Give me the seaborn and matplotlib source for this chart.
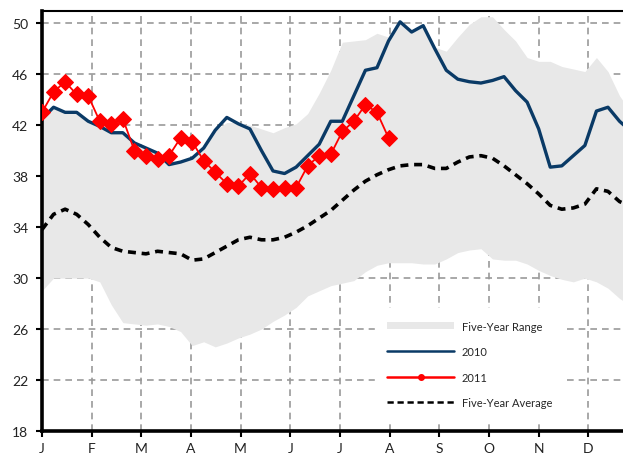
import matplotlib
matplotlib.use("Agg")
import matplotlib.pyplot as plt
import numpy as np
import pandas as pd
import seaborn as sns
from matplotlib.patches import Patch
from matplotlib.lines import Line2D

# month labels on x axis (weekly data, ~4.3 weeks per month)
months = ["J", "F", "M", "A", "M", "J", "J", "A", "S", "O", "N", "D"]
weeks_per_month = 4.3

# weekly values
y2010 = [42.5, 43.4, 43.0, 43.0, 42.3, 41.9, 41.4, 41.4, 40.6, 40.2,
         39.8, 38.9, 39.1, 39.4, 40.2, 41.6, 42.6, 42.1, 41.7, 40.0,
         38.4, 38.2, 38.7, 39.6, 40.5, 42.3, 42.3, 44.3, 46.3, 46.5,
         48.6, 50.1, 49.3, 49.8, 48.0, 46.3, 45.6, 45.4, 45.3, 45.5,
         45.8, 44.7, 43.8, 41.7, 38.7, 38.8, 39.6, 40.4, 43.1, 43.4,
         42.3, 41.5]

y2011 = [43.0, 44.6, 45.4, 44.4, 44.3, 42.3, 42.1, 42.5, 40.0, 39.6,
         39.3, 39.6, 41.0, 40.7, 39.2, 38.3, 37.4, 37.2, 38.2, 37.1,
         37.0, 37.1, 37.1, 38.8, 39.6, 39.7, 41.5, 42.3, 43.6, 43.0,
         41.0]

avg5 = [33.8, 35.0, 35.4, 35.0, 34.2, 33.2, 32.4, 32.1, 32.0, 31.9,
        32.1, 32.0, 31.9, 31.4, 31.5, 32.0, 32.5, 33.0, 33.2, 33.0,
        33.0, 33.2, 33.6, 34.1, 34.7, 35.3, 36.1, 36.9, 37.6, 38.1,
        38.5, 38.8, 38.9, 38.9, 38.6, 38.6, 39.1, 39.5, 39.6, 39.4,
        38.8, 38.1, 37.4, 36.6, 35.7, 35.4, 35.5, 35.8, 37.0, 36.8,
        36.0, 35.6]

range_hi = [42.5, 43.4, 43.0, 43.0, 42.3, 41.9, 41.4, 41.4, 40.6, 40.2,
            39.8, 38.9, 39.1, 39.4, 40.2, 41.6, 42.2, 42.2, 42.0, 41.7,
            41.4, 41.8, 42.1, 42.9, 44.5, 46.3, 48.5, 48.6, 48.7, 49.2,
            48.9, 50.1, 49.3, 49.8, 48.1, 47.8, 48.9, 49.9, 50.5, 50.5,
            49.5, 48.6, 47.3, 47.0, 47.0, 46.6, 46.4, 46.2, 47.3, 46.2,
            44.3, 43.0]

range_lo = [29.0, 30.0, 30.0, 30.0, 30.0, 29.7, 27.9, 26.5, 26.4, 26.3,
            26.4, 26.2, 25.8, 24.7, 25.0, 24.6, 24.9, 25.3, 25.6, 26.0,
            26.6, 27.1, 27.7, 28.6, 29.0, 29.4, 29.6, 29.8, 30.5, 31.0,
            31.2, 31.2, 31.2, 31.1, 31.1, 31.5, 32.0, 32.2, 32.3, 31.5,
            31.4, 31.4, 31.1, 30.6, 30.2, 29.9, 29.7, 30.0, 29.7, 29.2,
            28.4, 27.8]

sns.set_style("white")
plt.rcParams["font.family"] = ["Lato", "DejaVu Sans"]

weeks = np.arange(len(y2010))
df = pd.DataFrame({"week": weeks, "y2010": y2010, "avg": avg5,
                   "hi": range_hi, "lo": range_lo})
df11 = pd.DataFrame({"week": np.arange(len(y2011)), "y2011": y2011})

fig = plt.figure(figsize=(6.23, 4.6), dpi=100)
ax = fig.add_axes([42 / 623, 28 / 460, 581 / 623, 420 / 460])

band_color = "#e8e8e8"
blue = "#0a3a66"
red = "#ff0000"

ax.fill_between(df["week"], df["lo"], df["hi"], color=band_color, lw=0, zorder=2)
sns.lineplot(data=df, x="week", y="avg", ax=ax, color="black", lw=2.6,
             linestyle=(0, (2.2, 1.6)), zorder=4)
sns.lineplot(data=df, x="week", y="y2010", ax=ax, color=blue, lw=2.4, zorder=4)
sns.lineplot(data=df11, x="week", y="y2011", ax=ax, color=red, lw=1.3,
             marker="D", markersize=8, markeredgecolor=red, zorder=5)

ax.set_xlim(0, 50.3)
ax.set_ylim(18, 50.95)
ax.set_xticks(np.arange(len(months)) * weeks_per_month)
ax.set_xticklabels(months)
ax.set_yticks(np.arange(18, 51, 4))
ax.set_xlabel("")
ax.set_ylabel("")

ax.grid(True, color="#999999", linestyle=(0, (4, 3)), lw=1.2, zorder=1)
ax.set_axisbelow(True)

for s in ["left", "bottom"]:
    ax.spines[s].set_color("black")
    ax.spines[s].set_linewidth(2.6)
ax.spines["top"].set_color("black")
ax.spines["top"].set_linewidth(1.5)
ax.spines["right"].set_visible(False)

ax.tick_params(axis="both", which="both", direction="out", length=4, width=1.5,
               color="black", labelsize=10, labelcolor="#222222")
ax.tick_params(axis="x", pad=4)
ax.tick_params(axis="y", pad=6)
ax.tick_params(left=True, bottom=True)

handles = [
    Patch(facecolor=band_color, edgecolor="none"),
    Line2D([], [], color=blue, lw=1.8),
    Line2D([], [], color=red, lw=1.8, marker="o", markersize=4, markevery=[1]),
    Line2D([], [], color="black", lw=1.8, linestyle=(0, (2.5, 1.5))),
]
labels = ["Five-Year Range", "2010", "2011", "Five-Year Average"]
leg = ax.legend(handles, labels, loc="upper left", bbox_to_anchor=(0.564, 0.305),
                frameon=True, framealpha=1, facecolor="white", edgecolor="white",
                fontsize=8, handlelength=6, handleheight=0.6, labelspacing=1.3,
                handletextpad=0.7, borderpad=1.1, fancybox=False)
leg.set_zorder(6)

fig.savefig("out.png", dpi=100)
